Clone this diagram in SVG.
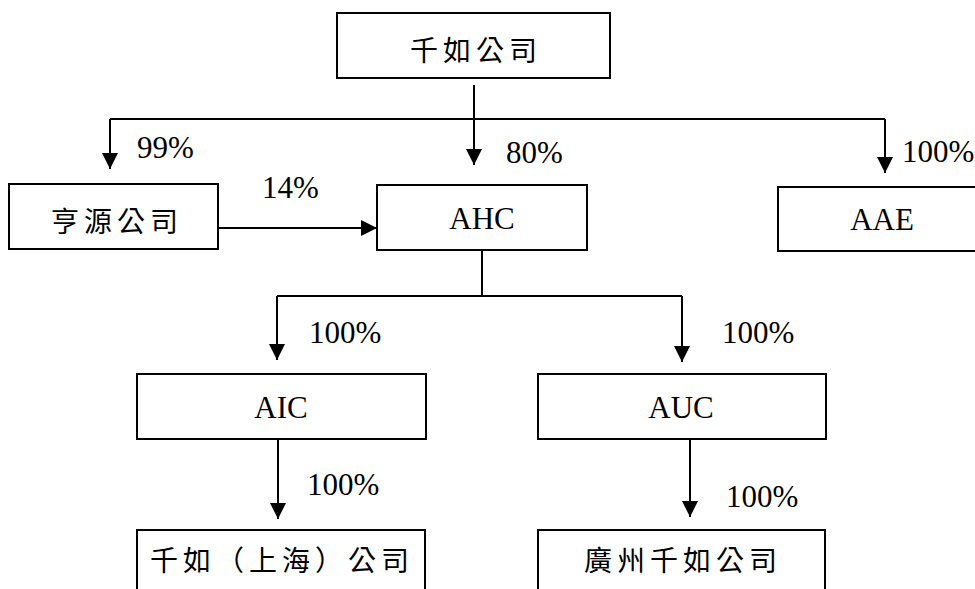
<svg xmlns="http://www.w3.org/2000/svg" width="975" height="589" viewBox="0 0 975 589">
<style>
.box{fill:#fff;stroke:#000;stroke-width:2}
.ln{fill:none;stroke:#000;stroke-width:2}
.lat{font-family:"Liberation Serif","Times New Roman",serif;font-size:31px;fill:#000}
.cjk{font-family:"Noto Sans CJK TC","Noto Sans CJK SC",sans-serif;font-size:28px;fill:#000;letter-spacing:5px}
.mid{text-anchor:middle}
</style>
<defs>
<marker id="ah" viewBox="0 0 16 16" refX="16" refY="8" markerWidth="16" markerHeight="16" markerUnits="userSpaceOnUse" orient="auto">
<path d="M0,0 L16,8 L0,16 z" fill="#000"/>
</marker>
</defs>
<rect width="975" height="589" fill="#fff"/>
<g id="connectors">
<line class="ln" x1="474" y1="85" x2="474" y2="165" marker-end="url(#ah)"/>
<line class="ln" x1="110" y1="119" x2="885" y2="119"/>
<line class="ln" x1="110" y1="119" x2="110" y2="169" marker-end="url(#ah)"/>
<line class="ln" x1="885" y1="119" x2="885" y2="173" marker-end="url(#ah)"/>
<line class="ln" x1="218" y1="228" x2="377" y2="228" marker-end="url(#ah)"/>
<line class="ln" x1="482" y1="250" x2="482" y2="296"/>
<line class="ln" x1="277" y1="296" x2="682" y2="296"/>
<line class="ln" x1="277" y1="296" x2="277" y2="360" marker-end="url(#ah)"/>
<line class="ln" x1="682" y1="296" x2="682" y2="362" marker-end="url(#ah)"/>
<line class="ln" x1="278" y1="439" x2="278" y2="519" marker-end="url(#ah)"/>
<line class="ln" x1="690" y1="439" x2="690" y2="517" marker-end="url(#ah)"/>
<text class="lat" x="137" y="158">99%</text>
<text class="lat" x="506" y="163">80%</text>
<text class="lat" x="902" y="162">100%</text>
<text class="lat" x="262" y="198">14%</text>
<text class="lat" x="309" y="343">100%</text>
<text class="lat" x="722" y="343">100%</text>
<text class="lat" x="307" y="495">100%</text>
<text class="lat" x="726" y="507">100%</text>
</g>
<g id="qianru">
<rect class="box" x="337" y="13" width="273" height="65"/>
<text class="cjk mid" x="476" y="61">千如公司</text>
</g>
<g id="hengyuan">
<rect class="box" x="9" y="184" width="209" height="65"/>
<text class="cjk mid" x="117" y="232">亨源公司</text>
</g>
<g id="ahc">
<rect class="box" x="377" y="185" width="210" height="65"/>
<text class="lat mid" x="482" y="229">AHC</text>
</g>
<g id="aae">
<rect class="box" x="778" y="187" width="210" height="64"/>
<text class="lat mid" x="882" y="230">AAE</text>
</g>
<g id="aic">
<rect class="box" x="137" y="374" width="289" height="65"/>
<text class="lat mid" x="281" y="418">AIC</text>
</g>
<g id="auc">
<rect class="box" x="538" y="374" width="288" height="65"/>
<text class="lat mid" x="681" y="418">AUC</text>
</g>
<g id="qianru-shanghai">
<rect class="box" x="137" y="530" width="288" height="80"/>
<text class="cjk mid" x="282" y="571">千如（上海）公司</text>
</g>
<g id="guangzhou">
<rect class="box" x="538" y="530" width="287" height="80"/>
<text class="cjk mid" x="683" y="571">廣州千如公司</text>
</g>
</svg>
